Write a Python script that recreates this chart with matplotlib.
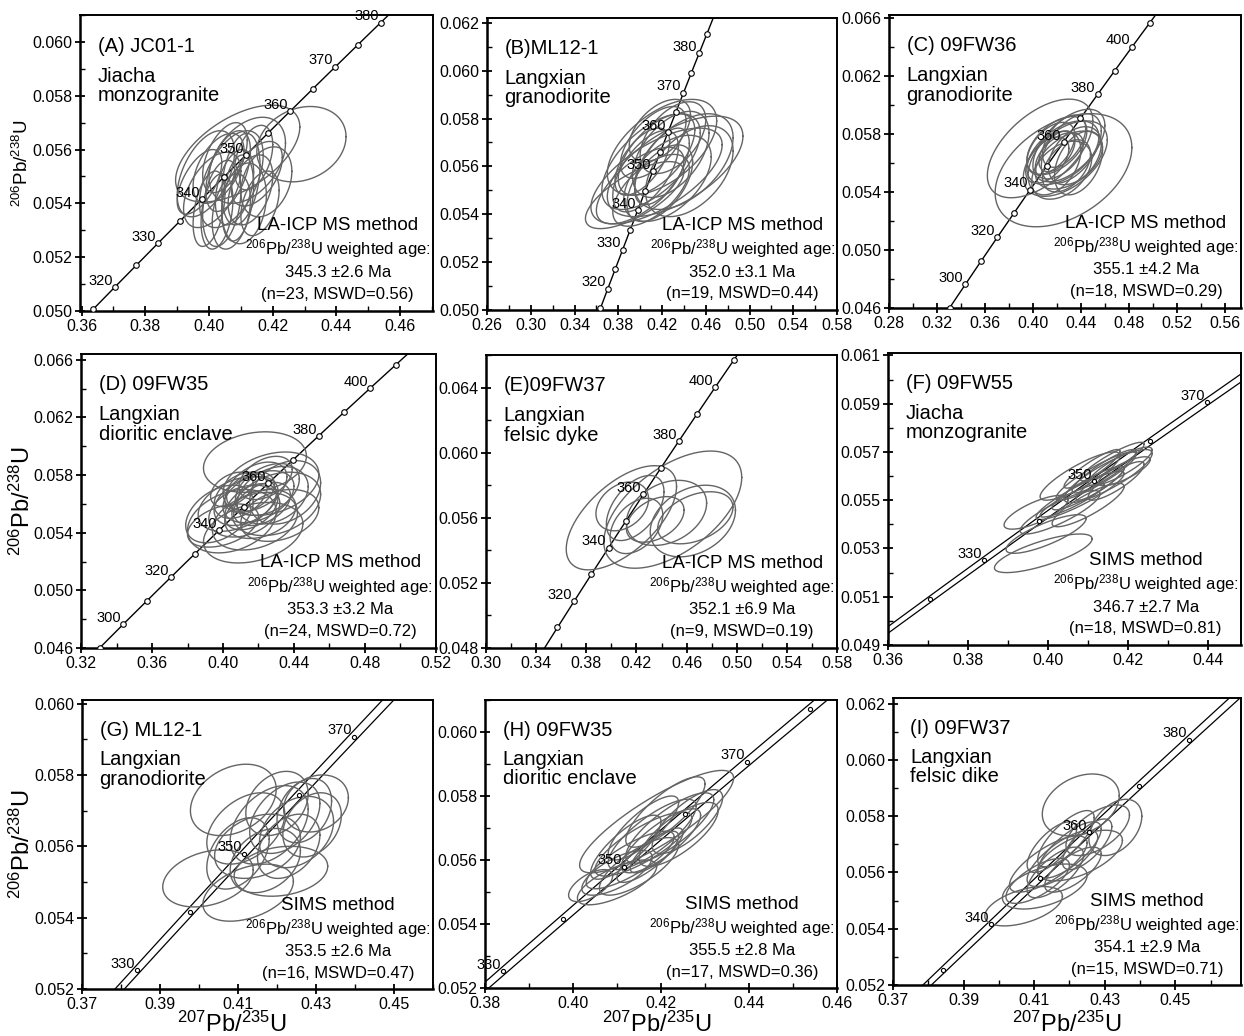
import numpy as np
import matplotlib
matplotlib.use("Agg")
import matplotlib.pyplot as plt
from matplotlib.ticker import FixedLocator, AutoMinorLocator, FormatStrFormatter

plt.rcParams['font.family'] = ['Liberation Sans', 'DejaVu Sans']
plt.rcParams['mathtext.fontset'] = 'custom'
plt.rcParams['mathtext.rm'] = 'Liberation Sans'
plt.rcParams['mathtext.it'] = 'Liberation Sans:italic'
plt.rcParams['mathtext.bf'] = 'Liberation Sans:bold'

# decay constants (Steiger & Jaeger)
LAM238 = 1.55125e-10
LAM235 = 9.8485e-10

# ---- data: sample labels / results ----
panel_keys = ["A", "B", "C", "D", "E", "F", "G", "H", "I"]
sample_names = ["(A) JC01-1", "(B)ML12-1", "(C) 09FW36", "(D) 09FW35", "(E)09FW37",
                "(F) 09FW55", "(G) ML12-1", "(H) 09FW35", "(I) 09FW37"]
rock_names = ["Jiacha\nmonzogranite", "Langxian\ngranodiorite", "Langxian\ngranodiorite",
              "Langxian\ndioritic enclave", "Langxian\nfelsic dyke", "Jiacha\nmonzogranite",
              "Langxian\ngranodiorite", "Langxian\ndioritic enclave", "Langxian\nfelsic dike"]
methods = ["LA-ICP MS method"] * 5 + ["SIMS method"] * 4
ages = [345.3, 352.0, 355.1, 353.3, 352.1, 346.7, 353.5, 355.5, 354.1]
age_errs = [2.6, 3.1, 4.2, 3.2, 6.9, 2.7, 2.6, 2.8, 2.9]
n_spots = [23, 19, 18, 24, 9, 18, 16, 17, 15]
mswd = [0.56, 0.44, 0.29, 0.72, 0.19, 0.81, 0.47, 0.36, 0.71]

# axis ranges and tick values
xlims = [(0.3595, 0.4703), (0.26, 0.58), (0.28, 0.5735), (0.32, 0.52), (0.30, 0.58),
         (0.36, 0.4482), (0.37, 0.46), (0.38, 0.46), (0.37, 0.4686)]
ylims = [(0.050, 0.0610), (0.050, 0.0622), (0.046, 0.0662), (0.046, 0.0664), (0.048, 0.0660),
         (0.049, 0.0611), (0.052, 0.0601), (0.052, 0.0610), (0.052, 0.0622)]
xticks = [[0.36, 0.38, 0.40, 0.42, 0.44, 0.46],
          [0.26, 0.30, 0.34, 0.38, 0.42, 0.46, 0.50, 0.54, 0.58],
          [0.28, 0.32, 0.36, 0.40, 0.44, 0.48, 0.52, 0.56],
          [0.32, 0.36, 0.40, 0.44, 0.48, 0.52],
          [0.30, 0.34, 0.38, 0.42, 0.46, 0.50, 0.54, 0.58],
          [0.36, 0.38, 0.40, 0.42, 0.44],
          [0.37, 0.39, 0.41, 0.43, 0.45],
          [0.38, 0.40, 0.42, 0.44, 0.46],
          [0.37, 0.39, 0.41, 0.43, 0.45]]
yticks = [[0.050, 0.052, 0.054, 0.056, 0.058, 0.060],
          [0.050, 0.052, 0.054, 0.056, 0.058, 0.060, 0.062],
          [0.046, 0.050, 0.054, 0.058, 0.062, 0.066],
          [0.046, 0.050, 0.054, 0.058, 0.062, 0.066],
          [0.048, 0.052, 0.056, 0.060, 0.064],
          [0.049, 0.051, 0.053, 0.055, 0.057, 0.059, 0.061],
          [0.052, 0.054, 0.056, 0.058, 0.060],
          [0.052, 0.054, 0.056, 0.058, 0.060],
          [0.052, 0.054, 0.056, 0.058, 0.060, 0.062]]

# concordia marks (Ma)
mark_steps = [5, 5, 10, 10, 10, 10, 10, 10, 10]
label_ages = [[320, 330, 340, 350, 360, 370, 380],
              [320, 330, 340, 350, 360, 370, 380],
              [300, 320, 340, 360, 380, 400],
              [300, 320, 340, 360, 380, 400],
              [320, 340, 360, 380, 400],
              [330, 350, 370],
              [330, 350, 370],
              [330, 350, 370],
              [340, 360, 380]]
has_band = [False] * 5 + [True] * 4

# error ellipses: (207Pb/235U, 206Pb/238U, half-width x, half-width y, rho)
ell_a = [(0.409, 0.05585, 0.0195, 0.0018, 0.55), (0.429, 0.0562, 0.014, 0.0014, 0.2),
         (0.412, 0.0556, 0.012, 0.0016, 0.4), (0.404, 0.0540, 0.006, 0.0016, 0.3),
         (0.401, 0.0545, 0.009, 0.0014, 0.5), (0.397, 0.0548, 0.007, 0.0012, 0.6),
         (0.406, 0.0552, 0.007, 0.0015, 0.5), (0.408, 0.0546, 0.006, 0.0014, 0.4),
         (0.403, 0.0553, 0.008, 0.0013, 0.5), (0.410, 0.0549, 0.006, 0.0017, 0.3),
         (0.407, 0.0537, 0.006, 0.0014, 0.3), (0.413, 0.0545, 0.007, 0.0013, 0.4),
         (0.415, 0.0551, 0.008, 0.0012, 0.5), (0.418, 0.0548, 0.008, 0.0013, 0.3),
         (0.400, 0.0538, 0.005, 0.0014, 0.4), (0.409, 0.0542, 0.005, 0.0016, 0.3),
         (0.405, 0.0557, 0.007, 0.0013, 0.5), (0.411, 0.0540, 0.007, 0.0015, 0.2),
         (0.4025, 0.0537, 0.005, 0.0014, 0.3), (0.414, 0.0557, 0.006, 0.0012, 0.4),
         (0.399, 0.0551, 0.009, 0.0016, 0.5), (0.416, 0.0540, 0.006, 0.0012, 0.4),
         (0.407, 0.0549, 0.010, 0.0018, 0.5)]
ell_b = [(0.415, 0.0556, 0.060, 0.0020, 0.65), (0.432, 0.0560, 0.062, 0.0021, 0.6),
         (0.410, 0.0562, 0.045, 0.0020, 0.6), (0.420, 0.0568, 0.050, 0.0020, 0.55),
         (0.400, 0.0552, 0.040, 0.0016, 0.65), (0.425, 0.0555, 0.040, 0.0018, 0.5),
         (0.415, 0.0565, 0.035, 0.0017, 0.6), (0.440, 0.0562, 0.045, 0.0020, 0.5),
         (0.405, 0.0558, 0.030, 0.0017, 0.6), (0.418, 0.0553, 0.030, 0.0016, 0.55),
         (0.412, 0.0570, 0.030, 0.0015, 0.6), (0.428, 0.0565, 0.035, 0.0018, 0.5),
         (0.395, 0.0548, 0.045, 0.0014, 0.7), (0.420, 0.0560, 0.025, 0.0016, 0.6),
         (0.410, 0.0550, 0.035, 0.0015, 0.6), (0.430, 0.0572, 0.030, 0.0015, 0.5),
         (0.402, 0.0562, 0.025, 0.0014, 0.6), (0.445, 0.0558, 0.040, 0.0019, 0.45),
         (0.418, 0.0575, 0.028, 0.0013, 0.5)]
ell_c = [(0.4255, 0.0555, 0.057, 0.0039, 0.4), (0.406, 0.0570, 0.044, 0.0034, 0.55),
         (0.425, 0.0567, 0.030, 0.0022, 0.5), (0.430, 0.0562, 0.028, 0.0020, 0.45),
         (0.420, 0.0572, 0.025, 0.0020, 0.5), (0.418, 0.0560, 0.022, 0.0022, 0.4),
         (0.432, 0.0570, 0.025, 0.0024, 0.5), (0.428, 0.0558, 0.020, 0.0018, 0.45),
         (0.422, 0.0565, 0.020, 0.0016, 0.5), (0.435, 0.0565, 0.022, 0.0020, 0.4),
         (0.415, 0.0570, 0.020, 0.0018, 0.5), (0.426, 0.0575, 0.018, 0.0018, 0.5),
         (0.424, 0.0555, 0.025, 0.0020, 0.4), (0.430, 0.0572, 0.030, 0.0025, 0.55),
         (0.412, 0.0562, 0.018, 0.0016, 0.5), (0.438, 0.0560, 0.020, 0.0022, 0.4),
         (0.420, 0.0568, 0.015, 0.0014, 0.5), (0.427, 0.0563, 0.035, 0.0026, 0.5)]
ell_d = [(0.418, 0.0589, 0.029, 0.0021, 0.2), (0.427, 0.0574, 0.027, 0.0022, 0.3),
         (0.417, 0.0540, 0.028, 0.0021, 0.3), (0.398, 0.0553, 0.019, 0.0020, 0.4),
         (0.430, 0.0560, 0.025, 0.0022, 0.3), (0.405, 0.0548, 0.025, 0.0022, 0.3),
         (0.420, 0.0565, 0.020, 0.0018, 0.4), (0.413, 0.0562, 0.018, 0.0017, 0.4),
         (0.425, 0.0570, 0.018, 0.0018, 0.4), (0.416, 0.0558, 0.015, 0.0016, 0.4),
         (0.422, 0.0560, 0.016, 0.0015, 0.4), (0.410, 0.0566, 0.015, 0.0016, 0.4),
         (0.428, 0.0566, 0.020, 0.0020, 0.3), (0.419, 0.0572, 0.017, 0.0017, 0.4),
         (0.412, 0.0555, 0.020, 0.0018, 0.3), (0.435, 0.0568, 0.020, 0.0022, 0.3),
         (0.400, 0.0545, 0.020, 0.0015, 0.4), (0.421, 0.0553, 0.020, 0.0017, 0.3),
         (0.408, 0.0560, 0.022, 0.0019, 0.4), (0.424, 0.0578, 0.015, 0.0015, 0.4),
         (0.415, 0.0568, 0.014, 0.0014, 0.4), (0.432, 0.0552, 0.022, 0.0018, 0.3),
         (0.405, 0.0570, 0.012, 0.0012, 0.4), (0.418, 0.0548, 0.024, 0.0020, 0.3)]
ell_e = [(0.408, 0.0560, 0.044, 0.0032, 0.6), (0.449, 0.0565, 0.055, 0.0036, 0.55),
         (0.4087, 0.0567, 0.021, 0.0015, 0.3), (0.419, 0.0566, 0.023, 0.0020, 0.5),
         (0.444, 0.0563, 0.032, 0.0020, 0.3), (0.465, 0.0558, 0.034, 0.0022, 0.3),
         (0.467, 0.0560, 0.030, 0.0016, 0.4), (0.435, 0.0559, 0.023, 0.0014, 0.4),
         (0.420, 0.0555, 0.021, 0.0017, 0.4)]
ell_f = [(0.3988, 0.0528, 0.0122, 0.0008, 0.75), (0.3995, 0.0536, 0.0100, 0.0008, 0.8),
         (0.3970, 0.0545, 0.0080, 0.0007, 0.75), (0.4030, 0.0545, 0.0100, 0.0009, 0.85),
         (0.4080, 0.0552, 0.0110, 0.0010, 0.9), (0.4100, 0.0555, 0.0090, 0.0009, 0.9),
         (0.4120, 0.0560, 0.0100, 0.0010, 0.9), (0.4140, 0.0562, 0.0080, 0.0009, 0.9),
         (0.4150, 0.0560, 0.0110, 0.0011, 0.85), (0.4110, 0.0563, 0.0070, 0.0008, 0.9),
         (0.4160, 0.0566, 0.0080, 0.0008, 0.9), (0.4130, 0.0557, 0.0060, 0.0007, 0.9),
         (0.4180, 0.0564, 0.0080, 0.0008, 0.85), (0.4100, 0.0548, 0.0090, 0.0009, 0.85),
         (0.4080, 0.0560, 0.0100, 0.0010, 0.85), (0.4170, 0.0558, 0.0070, 0.0008, 0.85),
         (0.4190, 0.0562, 0.0065, 0.0006, 0.8), (0.4060, 0.0550, 0.0080, 0.0007, 0.9)]
ell_g = [(0.4023, 0.0551, 0.0116, 0.0008, 0.3), (0.4126, 0.0547, 0.0116, 0.0008, 0.4),
         (0.4210, 0.0553, 0.0120, 0.0007, 0.2), (0.4088, 0.0573, 0.0110, 0.0010, 0.3),
         (0.4300, 0.0572, 0.0083, 0.0008, 0.2), (0.4180, 0.0566, 0.0100, 0.0011, 0.4),
         (0.4220, 0.0568, 0.0090, 0.0010, 0.4), (0.4150, 0.0560, 0.0110, 0.0009, 0.3),
         (0.4250, 0.0564, 0.0095, 0.0010, 0.3), (0.4200, 0.0572, 0.0080, 0.0009, 0.3),
         (0.4120, 0.0565, 0.0100, 0.0010, 0.4), (0.4270, 0.0570, 0.0070, 0.0009, 0.3),
         (0.4170, 0.0556, 0.0090, 0.0009, 0.3), (0.4230, 0.0560, 0.0080, 0.0009, 0.35),
         (0.4100, 0.0558, 0.0080, 0.0010, 0.4), (0.4290, 0.0566, 0.0075, 0.0009, 0.3)]
ell_h = [(0.4190, 0.0572, 0.0175, 0.0016, 0.85), (0.4040, 0.0552, 0.0050, 0.0005, 0.6),
         (0.4100, 0.0556, 0.0080, 0.0007, 0.7), (0.4130, 0.0560, 0.0100, 0.0009, 0.8),
         (0.4160, 0.0565, 0.0110, 0.0010, 0.8), (0.4180, 0.0568, 0.0100, 0.0011, 0.8),
         (0.4200, 0.0566, 0.0090, 0.0010, 0.8), (0.4150, 0.0558, 0.0090, 0.0009, 0.75),
         (0.4220, 0.0570, 0.0100, 0.0011, 0.8), (0.4170, 0.0561, 0.0070, 0.0008, 0.8),
         (0.4240, 0.0568, 0.0090, 0.0010, 0.75), (0.4120, 0.0564, 0.0080, 0.0010, 0.8),
         (0.4190, 0.0563, 0.0060, 0.0007, 0.8), (0.4260, 0.0572, 0.0080, 0.0010, 0.75),
         (0.4100, 0.0553, 0.0090, 0.0007, 0.7), (0.4210, 0.0575, 0.0090, 0.0011, 0.8),
         (0.4160, 0.0570, 0.0080, 0.0010, 0.8)]
ell_i = [(0.4232, 0.0584, 0.0109, 0.0011, 0.3), (0.4070, 0.0548, 0.0110, 0.0007, 0.5),
         (0.4330, 0.0576, 0.0075, 0.0010, 0.4), (0.4110, 0.0557, 0.0090, 0.0008, 0.7),
         (0.4140, 0.0563, 0.0110, 0.0010, 0.75), (0.4180, 0.0565, 0.0100, 0.0010, 0.75),
         (0.4200, 0.0568, 0.0090, 0.0010, 0.75), (0.4160, 0.0560, 0.0080, 0.0009, 0.7),
         (0.4280, 0.0575, 0.0090, 0.0009, 0.6), (0.4230, 0.0566, 0.0120, 0.0009, 0.6),
         (0.4130, 0.0555, 0.0120, 0.0008, 0.5), (0.4190, 0.0572, 0.0080, 0.0010, 0.75),
         (0.4150, 0.0569, 0.0070, 0.0009, 0.7), (0.4210, 0.0561, 0.0080, 0.0008, 0.7),
         (0.4250, 0.0570, 0.0070, 0.0009, 0.7)]
ellipses = [ell_a, ell_b, ell_c, ell_d, ell_e, ell_f, ell_g, ell_h, ell_i]

# ---- layout (pixel boxes: left, top, right, bottom) ----
W, H = 1244, 1036
boxes = [(80, 15, 433, 311), (487, 18, 837, 310), (889, 15, 1241, 308),
         (81, 354, 436, 648), (486, 355, 837, 648), (888, 353, 1241, 645),
         (82, 700, 433, 989), (485, 700, 837, 988), (893, 698, 1241, 985)]
ELL_COLOR = "#646464"
BAND = 0.0027  # relative lambda235 uncertainty for the concordia band


def concordia(t_ma, f=0.0):
    t = np.asarray(t_ma) * 1e6
    return np.exp(LAM235 * (1 + f) * t) - 1, np.exp(LAM238 * t) - 1


fig = plt.figure(figsize=(W / 100, H / 100), dpi=100)

for i, key in enumerate(panel_keys):
    x0, y0, x1, y1 = boxes[i]
    ax = fig.add_axes([x0 / W, 1 - y1 / H, (x1 - x0) / W, (y1 - y0) / H])

    # concordia curve
    tt = np.linspace(250, 460, 600)
    if has_band[i]:
        for f in (-BAND, BAND):
            cx, cy = concordia(tt, f)
            ax.plot(cx, cy, color="black", lw=0.9, zorder=2)
        ms = 3.0
    else:
        cx, cy = concordia(tt)
        ax.plot(cx, cy, color="black", lw=1.0, zorder=2)
        ms = 4.0
    tm = np.arange(280, 421, mark_steps[i])
    mx, my = concordia(tm)
    ax.plot(mx, my, "o", ms=ms, mfc="white", mec="black", mew=0.8, zorder=4)
    lx, ly = concordia(label_ages[i])
    for a, px, py in zip(label_ages[i], lx, ly):
        ax.annotate(str(a), (px, py), xytext=(-1.5, -0.5), textcoords="offset points",
                    ha="right", va="bottom", fontsize=10.5, zorder=5)

    # error ellipses
    th = np.linspace(0, 2 * np.pi, 181)
    for (ex, ey, sx, sy, r) in ellipses[i]:
        px = ex + sx * np.cos(th)
        py = ey + sy * (r * np.cos(th) + np.sqrt(1 - r ** 2) * np.sin(th))
        ax.plot(px, py, color=ELL_COLOR, lw=1.0, zorder=3)

    ax.set_xlim(*xlims[i])
    ax.set_ylim(*ylims[i])
    ax.xaxis.set_major_locator(FixedLocator(xticks[i]))
    ax.yaxis.set_major_locator(FixedLocator(yticks[i]))
    ax.xaxis.set_minor_locator(AutoMinorLocator(2))
    ax.yaxis.set_minor_locator(AutoMinorLocator(2))
    ax.xaxis.set_major_formatter(FormatStrFormatter("%.2f"))
    ax.yaxis.set_major_formatter(FormatStrFormatter("%.3f"))
    ax.tick_params(which="major", direction="inout", length=7, width=1.3,
                   labelsize=11.5, pad=2)
    ax.tick_params(which="minor", direction="in", length=3.5, width=1.0)
    for side in ["left", "bottom"]:
        ax.spines[side].set_linewidth(1.8)
    for side in ["top", "right"]:
        ax.spines[side].set_linewidth(1.4)

    # texts
    ax.text(0.05, 0.895, sample_names[i], transform=ax.transAxes, fontsize=14.5,
            ha="left", va="center")
    ax.text(0.05, 0.76, rock_names[i], transform=ax.transAxes, fontsize=14.5,
            ha="left", va="center", linespacing=1.05)
    ax.text(0.73, 0.29, methods[i], transform=ax.transAxes, fontsize=13.5,
            ha="center", va="center")
    ax.text(0.73, 0.21, r"$^{206}$Pb/$^{238}$U weighted age:", transform=ax.transAxes,
            fontsize=12, ha="center", va="center")
    ax.text(0.73, 0.13, "%.1f \u00b1%.1f Ma" % (ages[i], age_errs[i]),
            transform=ax.transAxes, fontsize=12, ha="center", va="center")
    ax.text(0.73, 0.055, "(n=%d, MSWD=%.2f)" % (n_spots[i], mswd[i]),
            transform=ax.transAxes, fontsize=12, ha="center", va="center")

# axis titles
ylab = r"$^{206}$Pb/$^{238}$U"
fig.text(22 / W, 1 - 163 / H, ylab, rotation=90, fontsize=13.5, ha="center", va="center")
fig.text(22 / W, 1 - 501 / H, ylab, rotation=90, fontsize=17, ha="center", va="center")
fig.text(22 / W, 1 - 844 / H, ylab, rotation=90, fontsize=17, ha="center", va="center")
xlab = r"$^{207}$Pb/$^{235}$U"
for xc in (232, 657, 1067):
    fig.text(xc / W, 1 - 1024 / H, xlab, fontsize=17, ha="center", va="center")

fig.savefig("out.png", dpi=100)
